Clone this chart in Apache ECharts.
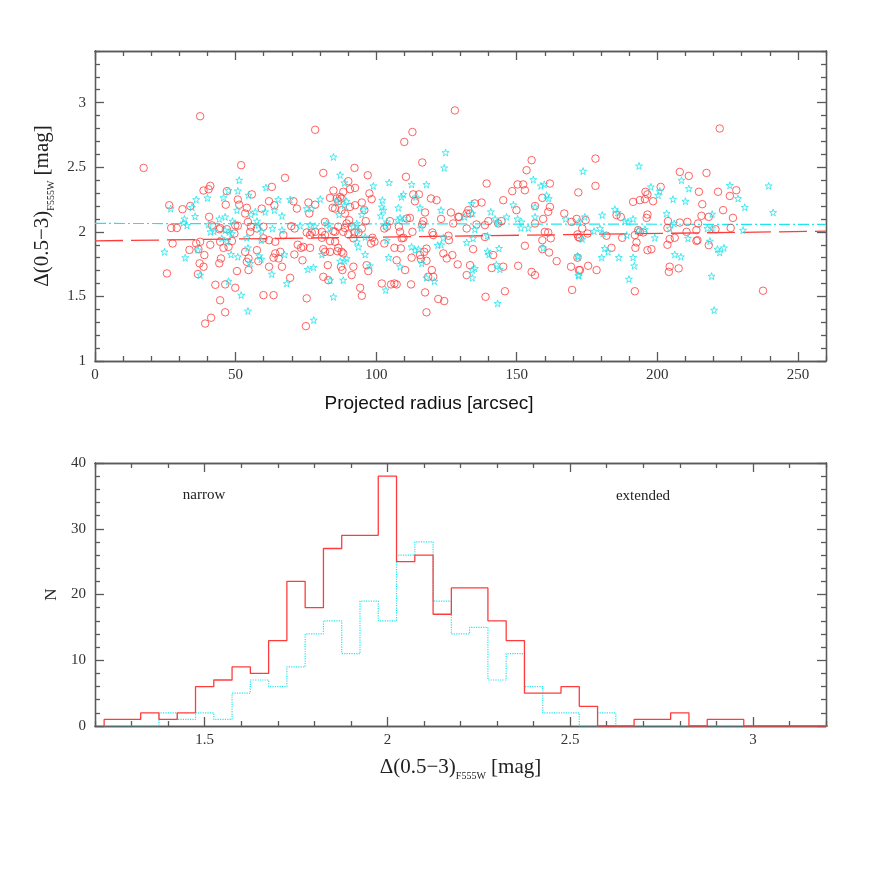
<!DOCTYPE html>
<html><head><meta charset="utf-8">
<script src="https://cdn.jsdelivr.net/npm/echarts@6/dist/echarts.min.js"></script>
<style>html,body{margin:0;padding:0;background:#fff}#c{width:872px;height:872px}</style>
</head><body><div id="c"></div>
<script>
// ---------- top panel data: [projected radius (arcsec), Δ(0.5−3) (mag)] ----------
const narrowPts = [
[37.4,2.895],[17.3,2.495],[41.0,2.356],[38.6,2.32],[40.4,2.33],[26.4,2.206],[31.1,2.175],[33.9,2.20],[40.6,2.116],[44.2,2.02],[27.1,2.03],[29.1,2.03],[27.6,1.91],[36.0,1.91],[37.4,1.923],[41.0,1.90],[33.6,1.86],[36.8,1.866],[38.9,1.82],[37.2,1.756],[38.6,1.73],[44.2,1.756],[25.6,1.678],[36.6,1.673],[42.8,1.59],[44.5,1.47],[39.2,1.29],[41.3,1.335],[41.6,2.05],
[78.3,2.79],[52.0,2.516],[67.6,2.418],[81.2,2.456],[62.9,2.348],[55.8,2.29],[46.9,2.315],[50.8,2.25],[51.3,2.21],[46.5,2.21],[54.0,2.186],[61.9,2.237],[63.8,2.206],[59.3,2.18],[53.4,2.142],[70.6,2.237],[71.8,2.18],[75.9,2.227],[78.3,2.21],[76.2,2.142],[83.6,2.263],[84.5,2.186],[86.0,2.258],[84.8,2.32],[54.4,2.077],[55.5,2.04],[57.6,2.026],[55.2,2.0],[49.9,2.05],[50.8,2.047],[59.9,2.04],[46.9,2.02],[44.5,2.03],[59.9,1.95],[61.9,1.935],[64.1,1.923],[67.0,1.975],[69.8,2.044],[71.0,2.026],[75.3,1.995],[77.1,1.995],[78.3,2.0],[76.5,1.975],[80.7,2.0],[81.8,1.975],[80.7,1.954],[83.6,1.928],[81.8,2.077],[84.8,2.005],[85.4,2.0],[44.5,1.923],[45.7,1.876],[47.5,1.884],[48.7,1.928],[49.6,1.987],[53.4,1.845],[54.6,1.794],[54.0,1.768],[58.1,1.773],[57.6,1.858],[64.1,1.833],[63.5,1.80],[65.9,1.845],[65.3,1.794],[66.5,1.73],[61.9,1.73],[70.9,1.825],[72.1,1.90],[73.3,1.876],[74.1,1.884],[76.5,1.876],[73.8,1.78],[81.2,1.866],[81.8,1.845],[83.6,1.845],[82.8,1.742],[83.0,1.626],[81.2,1.652],[44.8,1.794],[50.5,1.696],[54.6,1.704],[69.4,1.644],[46.3,1.593],[49.9,1.567],[59.9,1.51],[63.5,1.51],[75.3,1.485],[46.3,1.377],[75.0,1.27],
[128.0,2.94],[112.9,2.773],[110.0,2.696],[116.4,2.537],[92.3,2.495],[97.0,2.438],[110.6,2.426],[90.1,2.392],[90.7,2.33],[88.3,2.31],[92.5,2.34],[97.6,2.297],[98.4,2.253],[87.2,2.27],[87.7,2.258],[86.5,2.237],[113.2,2.29],[115.2,2.29],[113.8,2.237],[119.5,2.258],[121.5,2.245],[92.5,2.206],[94.9,2.227],[90.7,2.193],[95.8,2.168],[85.4,2.18],[87.7,2.168],[88.9,2.142],[117.4,2.15],[126.6,2.15],[129.2,2.116],[127.4,2.065],[123.1,2.10],[104.9,2.083],[116.8,2.083],[116.4,2.057],[112.0,2.108],[110.9,2.103],[90.4,2.09],[89.5,2.065],[91.3,2.04],[88.9,2.03],[86.5,2.04],[96.3,2.083],[94.9,2.026],[93.7,1.995],[92.3,1.995],[88.3,2.0],[90.1,1.98],[91.9,1.95],[102.9,2.026],[103.8,2.04],[108.1,2.04],[108.5,2.0],[109.7,1.954],[109.1,1.95],[112.9,2.0],[120.0,1.995],[120.3,1.975],[125.7,1.97],[125.9,1.935],[98.7,1.954],[99.4,1.923],[98.2,1.91],[102.9,1.91],[85.4,1.923],[86.5,1.876],[87.7,1.845],[86.2,1.85],[88.3,1.833],[106.5,1.876],[108.8,1.872],[112.6,1.80],[115.6,1.82],[115.9,1.79],[117.9,1.87],[117.1,1.845],[107.3,1.78],[117.9,1.776],[123.9,1.833],[125.1,1.794],[127.1,1.82],[129.0,1.748],[87.5,1.73],[88.0,1.704],[91.9,1.73],[97.2,1.696],[96.6,1.742],[91.3,1.665],[110.3,1.704],[119.8,1.704],[120.3,1.652],[118.5,1.652],[102.0,1.60],[105.3,1.593],[106.5,1.60],[107.3,1.593],[112.4,1.593],[94.3,1.567],[94.9,1.505],[117.4,1.531],[122.1,1.48],[124.2,1.464],[117.9,1.377],
[155.3,2.555],[153.5,2.477],[139.3,2.374],[150.3,2.367],[152.3,2.367],[152.9,2.322],[148.4,2.315],[161.8,2.374],[171.9,2.305],[145.2,2.245],[135.1,2.22],[137.5,2.227],[132.8,2.168],[132.2,2.142],[133.4,2.142],[159.1,2.263],[156.5,2.20],[161.8,2.193],[161.2,2.155],[149.9,2.168],[166.9,2.142],[129.5,2.116],[159.4,2.10],[169.5,2.077],[171.3,2.10],[135.7,2.057],[138.7,2.052],[139.9,2.083],[144.6,2.083],[143.4,2.065],[132.2,2.026],[156.5,2.065],[160.0,2.0],[161.2,1.995],[162.1,1.95],[159.1,1.935],[138.7,1.96],[171.9,1.96],[134.5,1.866],[152.9,1.892],[159.1,1.866],[161.5,1.84],[141.6,1.82],[164.2,1.773],[133.4,1.742],[132.2,1.665],[141.1,1.72],[145.2,1.73],[150.5,1.737],[155.3,1.69],[156.5,1.665],[169.3,1.73],[172.1,1.704],[145.8,1.54],[138.9,1.497],[169.7,1.55],
[178.0,2.567],[178.0,2.356],[201.2,2.348],[195.8,2.31],[196.5,2.29],[191.4,2.232],[193.8,2.245],[195.6,2.253],[198.5,2.237],[208.0,2.464],[211.2,2.433],[214.8,2.31],[185.5,2.13],[187.0,2.116],[196.5,2.134],[196.2,2.108],[174.5,2.09],[173.3,2.026],[175.2,1.987],[171.6,1.98],[172.4,1.954],[181.9,1.97],[187.5,1.954],[192.0,1.975],[193.2,2.013],[193.8,2.0],[195.0,1.995],[192.6,1.918],[192.2,1.876],[183.7,1.876],[196.5,1.858],[197.9,1.866],[203.8,2.083],[203.6,2.03],[208.0,2.072],[210.7,2.077],[206.2,1.954],[204.4,1.944],[203.6,1.90],[210.4,2.0],[213.9,2.013],[214.3,1.935],[171.6,1.80],[172.5,1.704],[175.4,1.737],[178.4,1.704],[204.4,1.73],[204.1,1.69],[207.6,1.717],[192.0,1.54],
[222.2,2.80],[217.5,2.456],[221.6,2.31],[228.1,2.322],[225.8,2.278],[216.0,2.214],[223.4,2.168],[215.7,2.124],[218.3,2.116],[226.9,2.108],[214.5,2.065],[220.7,2.02],[226.1,2.03],[213.9,1.93],[218.3,1.897],[237.6,1.544]
];
const extendedPts = [
[36.0,2.25],[40.0,2.263],[26.9,2.18],[34.5,2.19],[35.6,2.12],[31.8,2.10],[31.5,2.07],[32.7,2.05],[40.4,2.057],[44.2,2.10],[41.1,2.0],[42.3,2.005],[24.7,1.845],[32.1,1.80],[36.6,1.86],[37.4,1.665],
[84.8,2.58],[87.2,2.44],[51.3,2.40],[60.8,2.343],[47.5,2.32],[50.8,2.317],[45.7,2.265],[54.6,2.284],[65.2,2.25],[69.4,2.25],[80.1,2.253],[86.0,2.237],[50.5,2.168],[55.5,2.134],[57.0,2.155],[60.5,2.155],[63.8,2.168],[66.5,2.124],[75.3,2.18],[77.1,2.18],[86.8,2.134],[46.3,2.116],[48.9,2.083],[57.6,2.083],[58.1,2.052],[63.1,2.026],[66.5,2.013],[73.0,2.047],[76.5,2.052],[78.3,2.044],[82.4,2.065],[83.6,2.026],[46.3,2.013],[47.7,2.0],[48.7,1.987],[59.3,2.005],[45.1,1.95],[46.9,1.923],[54.0,1.954],[59.1,1.935],[54.4,1.876],[48.4,1.825],[50.8,1.807],[58.4,1.814],[59.1,1.789],[67.4,1.825],[55.2,1.756],[62.9,1.673],[75.7,1.71],[77.7,1.725],[80.7,1.825],[83.6,1.626],[47.5,1.618],[68.2,1.60],[52.0,1.51],[84.8,1.497],[54.4,1.387],[77.8,1.317],
[124.7,2.614],[124.2,2.495],[88.7,2.38],[99.0,2.356],[104.6,2.382],[112.6,2.367],[117.9,2.367],[109.7,2.29],[109.0,2.27],[114.1,2.27],[102.2,2.245],[102.0,2.193],[102.6,2.168],[101.7,2.124],[107.9,2.186],[115.6,2.186],[123.1,2.168],[89.5,2.237],[88.7,2.206],[95.5,2.175],[94.9,2.134],[108.5,2.108],[110.0,2.103],[107.7,2.09],[103.8,2.077],[103.2,2.047],[93.1,2.065],[91.9,2.04],[93.4,2.013],[116.0,2.03],[96.1,1.96],[93.7,1.884],[93.1,1.923],[103.8,1.935],[112.6,1.884],[113.8,1.858],[115.0,1.866],[121.9,1.897],[123.1,1.90],[123.9,1.954],[96.1,1.825],[104.4,1.802],[89.5,1.794],[87.2,1.773],[88.7,1.776],[97.8,1.737],[108.5,1.73],[116.2,1.756],[88.3,1.626],[103.4,1.55],[117.9,1.644],[120.7,1.618],
[155.9,2.405],[158.6,2.356],[159.8,2.367],[160.6,2.284],[161.4,2.258],[148.8,2.21],[156.5,2.193],[134.0,2.22],[134.2,2.142],[140.8,2.155],[156.5,2.116],[146.4,2.116],[142.3,2.10],[143.4,2.065],[150.3,2.10],[151.7,2.077],[131.4,2.116],[167.4,2.10],[151.5,2.03],[154.1,2.03],[135.1,2.02],[139.6,1.97],[132.2,1.918],[134.5,1.95],[143.7,1.872],[139.6,1.85],[140.1,1.825],[159.4,1.876],[142.8,1.748],[144.0,1.71],[134.2,1.704],[135.1,1.717],[134.2,1.644],[171.9,1.807],[171.9,1.665],[143.2,1.446],
[173.6,2.47],[193.5,2.51],[197.7,2.348],[200.9,2.315],[200.3,2.284],[208.6,2.40],[211.2,2.335],[205.6,2.253],[210.0,2.237],[184.9,2.175],[185.9,2.15],[180.4,2.13],[174.2,2.116],[172.1,2.077],[188.5,2.083],[189.6,2.077],[191.4,2.10],[203.3,2.142],[206.0,2.065],[204.4,2.026],[179.6,2.026],[177.5,2.005],[180.7,1.987],[189.1,1.975],[195.6,2.02],[193.2,2.013],[199.1,1.954],[210.9,1.95],[173.3,1.944],[181.3,1.872],[182.5,1.845],[180.2,1.802],[186.3,1.802],[191.4,1.802],[191.8,1.737],[171.6,1.814],[206.2,1.825],[208.4,1.807],[172.1,1.66],[189.9,1.634],
[225.8,2.36],[239.6,2.356],[228.7,2.258],[231.1,2.19],[241.2,2.15],[219.5,2.137],[217.8,2.026],[219.5,2.03],[230.5,2.013],[218.7,1.928],[221.4,1.866],[222.2,1.84],[223.7,1.876],[219.3,1.657],[220.2,1.394]
];
// linear fits (value at x = 0 and x = 260)
const fitX = [0, 260];
const narrowFitY = [1.93, 2.005];
const extendedFitY = [2.065, 2.057];

// ---------- bottom panel: histograms ----------
const binEdges = [1.225,1.275,1.325,1.375,1.425,1.475,1.525,1.575,1.625,1.675,1.725,1.775,1.825,1.875,1.925,1.975,2.025,2.075,2.125,2.175,2.225,2.275,2.325,2.375,2.425,2.475,2.525,2.575,2.625,2.675,2.725,2.775,2.825,2.875,2.925,2.975,3.025,3.075,3.125,3.175,3.225];
const narrowCounts = [1,1,2,1,2,6,7,9,8,13,22,18,27,29,29,38,25,26,17,21,21,16,13,5,5,6,3,0,0,1,1,2,0,1,1,0,0,0,0,0];
const extendedCounts = [0,0,0,2,1,2,1,5,7,6,9,14,16,11,19,16,26,28,19,14,15,7,11,6,2,2,0,2,0,0,0,0,0,0,0,0,0,0,0,0];

// ---------- axis ticks ----------
const topXMajor = [0,50,100,150,200,250];
const topYMajor = [1,1.5,2,2.5,3];
const botXMajor = [1.5,2,2.5,3];
const botYMajor = [0,10,20,30,40];
function minorList(a, b, step, majors) {
  const out = [];
  for (let v = a; v <= b + 1e-9; v += step) {
    const r = Math.round(v * 1000) / 1000;
    if (!majors.some(m => Math.abs(m - r) < 1e-6)) out.push(r);
  }
  return out;
}
const topXMinor = minorList(0, 260, 10, topXMajor);
const topYMinor = minorList(1, 3.4, 0.1, topYMajor);
const botXMinor = minorList(1.2, 3.2, 0.1, botXMajor);
const botYMinor = minorList(0, 40, 2, botYMajor);

const AX = '#5a5a5a', RED = '#ff3c3c', CYAN = '#1fe6ee';
const SERIF = '"Liberation Serif", "DejaVu Serif", serif';
const STAR = 'path://M50,2 L61,36 L97,36 L68,57 L79,92 L50,71 L21,92 L32,57 L3,36 L39,36 Z';

function ax(dim, grid, pos, min, max, ticks, len, withLabel, extra) {
  const o = {
    type: 'value', gridIndex: grid, position: pos, min: min, max: max,
    axisLine: { show: true, onZero: false, lineStyle: { color: AX, width: 1.3 } },
    axisTick: { show: true, inside: true, length: len, customValues: ticks, lineStyle: { color: AX, width: 1.3 } },
    axisLabel: { show: withLabel, customValues: ticks, fontFamily: SERIF, fontSize: 15, color: '#333', margin: dim === 'x' ? 7 : 9 },
    splitLine: { show: false }, minorTick: { show: false }, minorSplitLine: { show: false }
  };
  return Object.assign(o, extra || {});
}

const yName = '{a|Δ(0.5−3)}{s|F555W}{a| [mag]}';
const richName = {
  a: { fontFamily: SERIF, fontSize: 21, color: '#222', lineHeight: 28, verticalAlign: 'middle' },
  s: { fontFamily: SERIF, fontSize: 10, color: '#222', lineHeight: 12, verticalAlign: 'bottom' }
};

function stepData(counts) {
  const d = [[binEdges[0], 0]];
  counts.forEach((c, i) => d.push([binEdges[i], c]));
  d.push([binEdges[counts.length], counts[counts.length - 1]]);
  return d;
}

const chart = echarts.init(document.getElementById('c'), null, { renderer: 'canvas' });
chart.setOption({
  backgroundColor: '#fff',
  animation: false,
  grid: [
    { left: 95, right: 46, top: 51, height: 310 },
    { left: 95, right: 46, top: 463, height: 263 }
  ],
  xAxis: [
    ax('x', 0, 'bottom', 0, 260, topXMajor, 9, true),
    ax('x', 0, 'bottom', 0, 260, topXMinor, 5, false),
    ax('x', 0, 'top', 0, 260, topXMajor, 9, false),
    ax('x', 0, 'top', 0, 260, topXMinor, 5, false),
    ax('x', 1, 'bottom', 1.2, 3.2, botXMajor, 9, true, {
      name: yName, nameLocation: 'middle', nameGap: 27,
      nameTextStyle: { rich: richName }
    }),
    ax('x', 1, 'bottom', 1.2, 3.2, botXMinor, 5, false),
    ax('x', 1, 'top', 1.2, 3.2, botXMajor, 9, false),
    ax('x', 1, 'top', 1.2, 3.2, botXMinor, 5, false)
  ],
  yAxis: [
    ax('y', 0, 'left', 1, 3.4, topYMajor, 9, true, {
      name: yName, nameLocation: 'middle', nameGap: 37, nameRotate: 90,
      nameTextStyle: { rich: richName }
    }),
    ax('y', 0, 'left', 1, 3.4, topYMinor, 5, false),
    ax('y', 0, 'right', 1, 3.4, topYMajor, 9, false),
    ax('y', 0, 'right', 1, 3.4, topYMinor, 5, false),
    ax('y', 1, 'left', 0, 40, botYMajor, 9, true, {
      name: 'N', nameLocation: 'middle', nameGap: 33, nameRotate: 90,
      nameTextStyle: { fontFamily: SERIF, fontSize: 17, color: '#222' }
    }),
    ax('y', 1, 'left', 0, 40, botYMinor, 5, false),
    ax('y', 1, 'right', 0, 40, botYMajor, 9, false),
    ax('y', 1, 'right', 0, 40, botYMinor, 5, false)
  ],
  graphic: [
    { type: 'text', x: 429, y: 404, style: { text: 'Projected radius [arcsec]', font: '19px "Liberation Sans", Arial, sans-serif', fill: '#111', align: 'center', verticalAlign: 'middle' } },
    { type: 'text', x: 204, y: 495, style: { text: 'narrow', font: '15px ' + SERIF, fill: '#222', align: 'center', verticalAlign: 'middle' } },
    { type: 'text', x: 643, y: 496, style: { text: 'extended', font: '15px ' + SERIF, fill: '#222', align: 'center', verticalAlign: 'middle' } }
  ],
  series: [
    { type: 'line', xAxisIndex: 0, yAxisIndex: 0, symbol: 'none', silent: true,
      data: fitX.map((x, i) => [x, extendedFitY[i]]),
      lineStyle: { color: CYAN, width: 1.2, type: [11, 3, 2, 3] }, z: 2 },
    { type: 'line', xAxisIndex: 0, yAxisIndex: 0, symbol: 'none', silent: true,
      data: fitX.map((x, i) => [x, narrowFitY[i]]),
      lineStyle: { color: RED, width: 1.3, type: [28, 8] }, z: 2 },
    { type: 'scatter', xAxisIndex: 0, yAxisIndex: 0, data: narrowPts, symbol: 'circle', symbolSize: 7.5,
      itemStyle: { color: 'rgba(0,0,0,0)', borderColor: RED, borderWidth: 1 }, z: 3 },
    { type: 'scatter', xAxisIndex: 0, yAxisIndex: 0, data: extendedPts, symbol: STAR, symbolSize: 7,
      itemStyle: { color: 'rgba(0,0,0,0)', borderColor: CYAN, borderWidth: 1 }, z: 4 },
    { type: 'line', xAxisIndex: 4, yAxisIndex: 4, symbol: 'none', step: 'end',
      data: stepData(extendedCounts), lineStyle: { color: CYAN, width: 1.2, type: 'dotted' }, z: 2 },
    { type: 'line', xAxisIndex: 4, yAxisIndex: 4, symbol: 'none', step: 'end',
      data: stepData(narrowCounts), lineStyle: { color: RED, width: 1.3 }, z: 3 }
  ]
});
</script></body></html>
